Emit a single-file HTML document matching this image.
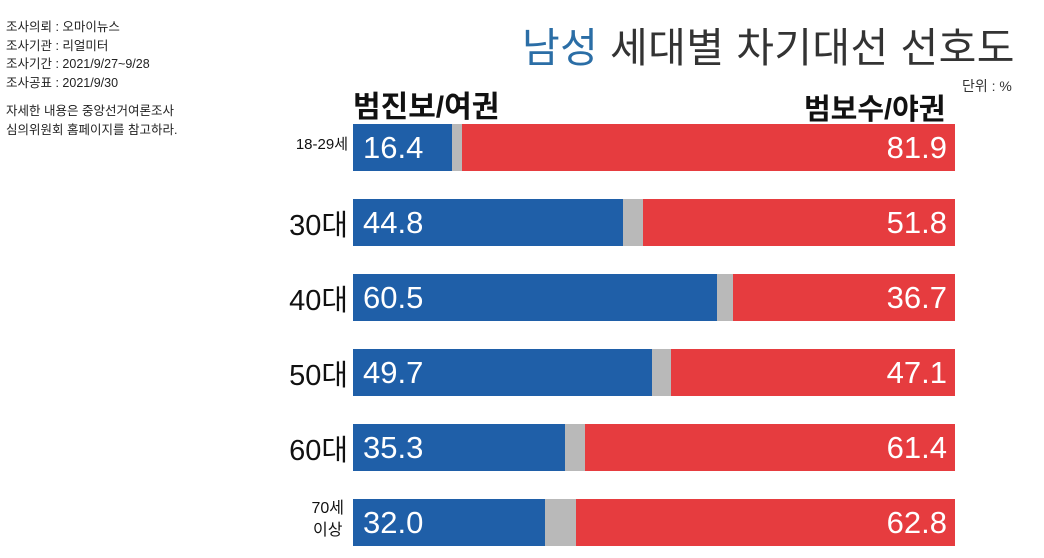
<!DOCTYPE html>
<html><head><meta charset="utf-8"><style>
body{margin:0;width:1044px;height:558px;background:#fff;position:relative;overflow:hidden;font-family:"Liberation Sans","Noto Sans CJK KR",sans-serif;}
.a{position:absolute;white-space:nowrap;}
.info{left:6px;top:18px;font-size:12.5px;line-height:18.5px;color:#222;}
.bar{position:absolute;height:47px;}
.b{background:#1f5fa8;left:353px;}
.g{background:#b9b9b9;}
.r{background:#e63c3f;}
.v{position:absolute;font-size:31px;color:#fff;line-height:47px;top:0;}
.lab{font-size:29px;color:#111;text-align:right;right:696px;}
</style></head><body>
<div class="a info">조사의뢰 : 오마이뉴스<br>조사기관 : 리얼미터<br>조사기간 : 2021/9/27~9/28<br>조사공표 : 2021/9/30<br><div style="height:10px"></div>자세한 내용은 중앙선거여론조사<br>심의위원회 홈페이지를 참고하라.</div>
<div class="a" style="left:522px;top:14px;font-size:41px;letter-spacing:0.4px;color:#333;"><span style="color:#2b6ea6">남성</span> 세대별 차기대선 선호도</div>
<div class="a" style="left:962px;top:76px;font-size:14px;color:#333;">단위 : %</div>
<div class="a" style="left:353px;top:82px;font-size:30px;font-weight:bold;color:#111;">범진보/여권</div>
<div class="a" style="left:804px;top:86px;font-size:29px;font-weight:bold;color:#111;">범보수/야권</div>

<div class="a lab" style="top:133px;font-size:15px;">18-29세</div>
<div class="a lab" style="top:202px;">30대</div>
<div class="a lab" style="top:277px;">40대</div>
<div class="a lab" style="top:352px;">50대</div>
<div class="a lab" style="top:427px;">60대</div>
<div class="a lab" style="top:498px;font-size:16px;line-height:22px;text-align:center;right:700px;">70세<br>이상</div>

<div class="bar b" style="top:124px;width:99px"><span class="v" style="left:10px">16.4</span></div>
<div class="bar g" style="top:124px;left:452px;width:10px"></div>
<div class="bar r" style="top:124px;left:462px;width:493px"><span class="v" style="right:8px">81.9</span></div>

<div class="bar b" style="top:199px;width:270px"><span class="v" style="left:10px">44.8</span></div>
<div class="bar g" style="top:199px;left:623px;width:20px"></div>
<div class="bar r" style="top:199px;left:643px;width:312px"><span class="v" style="right:8px">51.8</span></div>

<div class="bar b" style="top:274px;width:364px"><span class="v" style="left:10px">60.5</span></div>
<div class="bar g" style="top:274px;left:717px;width:16px"></div>
<div class="bar r" style="top:274px;left:733px;width:222px"><span class="v" style="right:8px">36.7</span></div>

<div class="bar b" style="top:349px;width:299px"><span class="v" style="left:10px">49.7</span></div>
<div class="bar g" style="top:349px;left:652px;width:19px"></div>
<div class="bar r" style="top:349px;left:671px;width:284px"><span class="v" style="right:8px">47.1</span></div>

<div class="bar b" style="top:424px;width:212px"><span class="v" style="left:10px">35.3</span></div>
<div class="bar g" style="top:424px;left:565px;width:20px"></div>
<div class="bar r" style="top:424px;left:585px;width:370px"><span class="v" style="right:8px">61.4</span></div>

<div class="bar b" style="top:499px;width:192px"><span class="v" style="left:10px">32.0</span></div>
<div class="bar g" style="top:499px;left:545px;width:31px"></div>
<div class="bar r" style="top:499px;left:576px;width:379px"><span class="v" style="right:8px">62.8</span></div>
</body></html>
